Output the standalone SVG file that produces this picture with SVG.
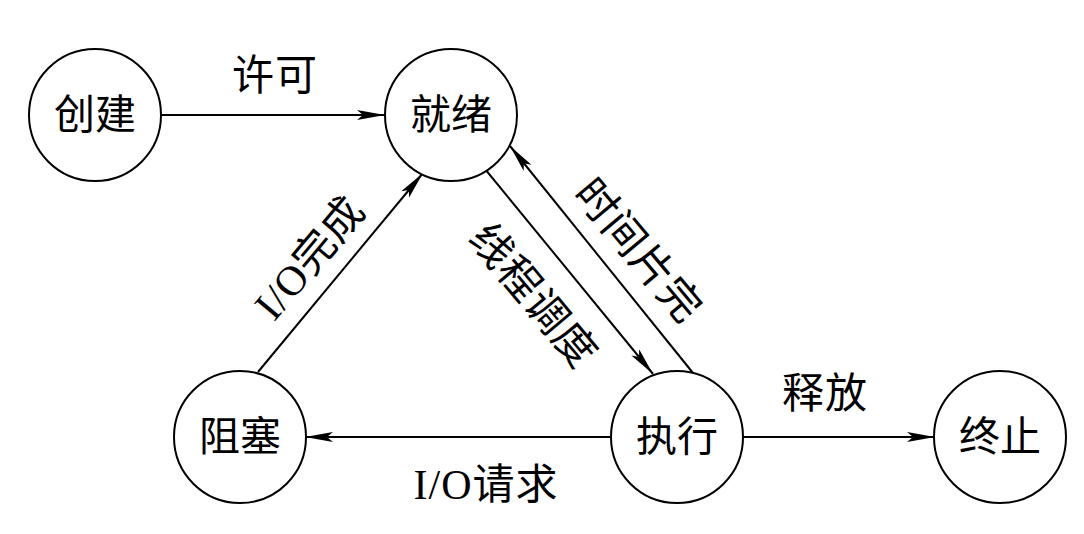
<svg xmlns="http://www.w3.org/2000/svg" width="1084" height="534" viewBox="0 0 1084 534">
<style>
.n{fill:#fff;stroke:#000;stroke-width:2}
.t{font-family:"Liberation Serif","Noto Sans CJK SC",serif;font-size:41px;fill:#000;text-anchor:middle;dominant-baseline:central}
.l{font-size:42px;letter-spacing:1px}
.e{stroke:#000;stroke-width:2;fill:none;marker-end:url(#a)}
</style>
<defs>
<marker id="a" markerUnits="userSpaceOnUse" markerWidth="30" markerHeight="12" refX="28" refY="5" orient="auto">
<path d="M0,0 L28,5 L0,10 L6,5 Z" fill="#000"/>
</marker>
</defs>
<rect width="1084" height="534" fill="#fff"/>
<g id="connectors">
<line class="e" x1="161" y1="115" x2="385" y2="115"/>
<line class="e" x1="258" y1="372" x2="423" y2="173"/>
<line class="e" x1="485" y1="169" x2="653" y2="374"/>
<line class="e" x1="693" y1="373" x2="510" y2="146"/>
<line class="e" x1="612" y1="437" x2="305" y2="437"/>
<line class="e" x1="742" y1="437" x2="935" y2="437"/>
<text class="t l" x="275" y="76">许可</text>
<text class="t l" transform="translate(310,258) rotate(-50)">I/O完成</text>
<text class="t l" transform="translate(533,296) rotate(50)">线程调度</text>
<text class="t l" transform="translate(638,251) rotate(50)">时间片完</text>
<text class="t l" x="825" y="394">释放</text>
<text class="t l" x="486" y="485">I/O请求</text>
</g>
<g id="n1"><circle class="n" cx="95" cy="115" r="66"/><text class="t" x="95" y="115">创建</text></g>
<g id="n2"><circle class="n" cx="451" cy="115" r="66"/><text class="t" x="451" y="115">就绪</text></g>
<g id="n3"><circle class="n" cx="240" cy="437" r="66"/><text class="t" x="240" y="437">阻塞</text></g>
<g id="n4"><circle class="n" cx="677" cy="437" r="66"/><text class="t" x="677" y="437">执行</text></g>
<g id="n5"><circle class="n" cx="1000" cy="437" r="66"/><text class="t" x="1000" y="437">终止</text></g>
</svg>
